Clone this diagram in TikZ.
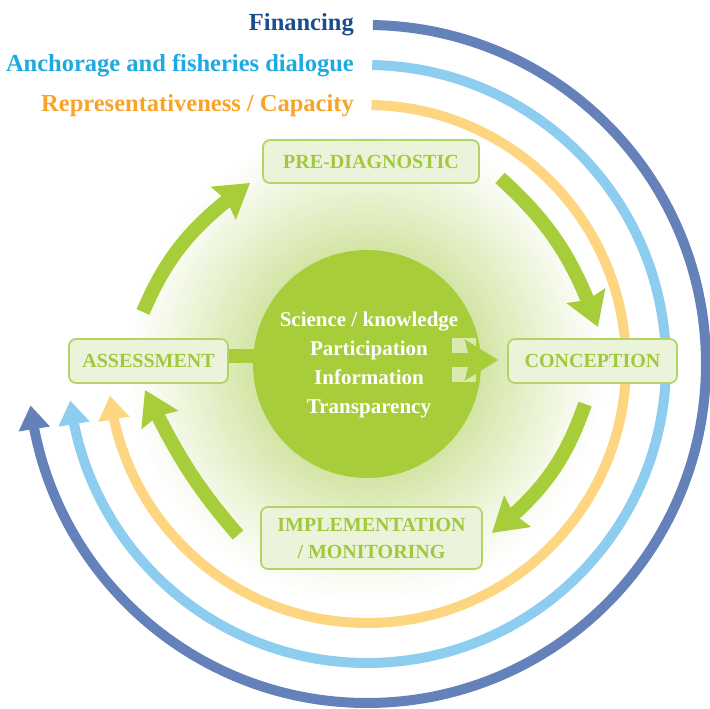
\documentclass[tikz,border=0pt]{standalone}
\usepackage{fontspec}
\setmainfont{Liberation Serif}
\usetikzlibrary{arrows.meta,bending,calc}
\definecolor{dbluet}{RGB}{27,78,143}
\definecolor{lbluet}{RGB}{30,170,225}
\definecolor{oranget}{RGB}{246,164,42}
\definecolor{dbluea}{RGB}{101,129,185}
\definecolor{lbluea}{RGB}{141,205,240}
\definecolor{orangea}{RGB}{254,214,129}
\definecolor{cgreen}{RGB}{167,205,58}
\definecolor{boxfill}{RGB}{235,243,218}
\definecolor{boxline}{RGB}{178,212,100}
\definecolor{boxtext}{RGB}{162,200,62}
\definecolor{glowc}{RGB}{212,229,165}
\definecolor{lightrect}{RGB}{218,233,178}
\tikzset{
  lab/.style={font=\fontsize{24.5}{28}\selectfont\bfseries, inner sep=0pt, anchor=base east},
  outerarc/.style={line width=10pt, -{Triangle[length=24pt,width=30pt]}},
  greenarrow/.style={draw=cgreen, line width=14pt, -{Stealth[length=33pt,width=40pt,inset=4pt]}},
  box/.style={draw=boxline, line width=1.7pt, fill=boxfill, rounded corners=7pt, text=boxtext,
    font=\fontsize{20}{27}\selectfont\bfseries, inner sep=0pt, align=center},
  ctext/.style={text=white, font=\fontsize{21}{28.7}\selectfont\bfseries, align=center, inner sep=0pt}
}
\begin{document}
\begin{tikzpicture}[x=1pt,y=1pt]
\useasboundingbox (0,0) rectangle (710,709);
\coordinate (O) at (367,345);
% glow (concentric rings fading to white)
\foreach \i in {0,...,60}{
  \pgfmathsetmacro\rr{240-\i*2.1}
  \pgfmathsetmacro\pp{100*(\i/60)^1.1}
  \fill[glowc!\pp!white] (O) circle (\rr);
}
% outer arcs
\draw[outerarc, draw=dbluea] ($(O)+(89:339)$) arc[start angle=89, end angle=-173, radius=339];
\draw[outerarc, draw=lbluea] ($(O)+(89:299)$) arc[start angle=89, end angle=-173, radius=299];
\draw[outerarc, draw=orangea] ($(O)+(89:259)$) arc[start angle=89, end angle=-173, radius=259];
% labels
\node[lab, text=dbluet] (fin) at (354,678) {Financing};
\node[lab, text=lbluet] (anc) at (354,637) {Anchorage and fisheries dialogue};
\node[lab, text=oranget] (rep) at (354,597) {Representativeness / Capacity};
% boxes
\node[box, minimum width=216pt, minimum height=43pt] (pre) at (371,547.5) {PRE-DIAGNOSTIC};
\node[box, minimum width=159pt, minimum height=44pt] (assess) at (148.5,348) {ASSESSMENT};
\node[box, minimum width=169pt, minimum height=44pt] (concep) at (592.5,348) {CONCEPTION};
\node[box, minimum width=221pt, minimum height=62pt] (impl) at (371.5,171) {IMPLEMENTATION\\/ MONITORING};
% green cycle arrows
\coordinate (t1) at (143,397); \coordinate (h1) at (250,526);
\coordinate (t2) at (500,531); \coordinate (h2) at (598,382);
\coordinate (t3) at (585,305); \coordinate (h3) at (492,176);
\coordinate (t4) at (238,174); \coordinate (h4) at (145,319);
\draw[greenarrow] (t1) to[out=67,in=216] (h1);
\draw[greenarrow] (t2) to[out=-42,in=110] (h2);
\draw[greenarrow] (t3) to[out=-109,in=39] (h3);
\draw[greenarrow] (t4) to[out=131,in=296] (h4);
% bar from assessment to circle
\draw[draw=cgreen, line width=14pt] ([yshift=4.5pt]assess.east) -- ([yshift=4.5pt,xshift=40pt]assess.east -| O);
% circle
\node[circle, fill=cgreen, minimum size=228pt, inner sep=0pt] (circ) at (O) {};
% light rectangles and arrow to conception
\fill[lightrect] (452,356) rectangle (476,371);
\fill[lightrect] (452,327) rectangle (476,342);
\draw[draw=cgreen, line width=14pt, -{Stealth[length=33pt,width=40pt,inset=5pt]}] ([yshift=1pt]concep.west -| circ.center) -- ([xshift=-9pt,yshift=1pt]concep.west);
% circle text
\node[ctext] (ct) at (369,344) {Science / knowledge\\Participation\\Information\\Transparency};
\end{tikzpicture}
\end{document}
